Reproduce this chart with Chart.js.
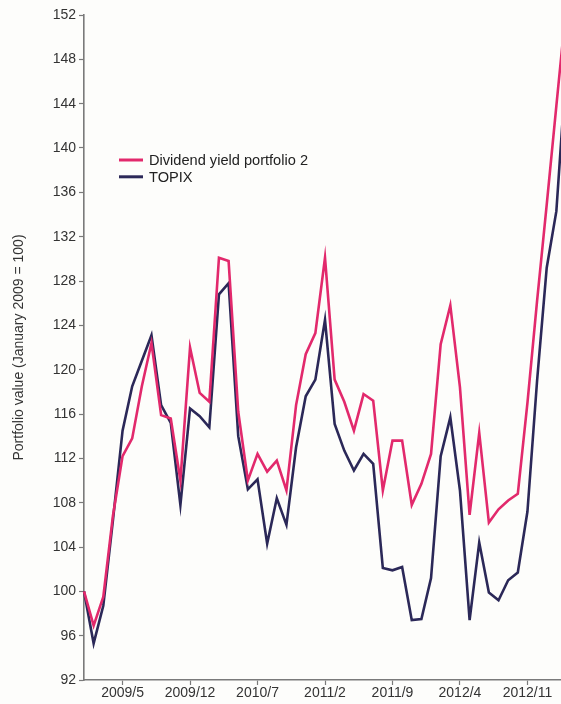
<!DOCTYPE html>
<html>
<head>
<meta charset="utf-8">
<script src="https://cdn.jsdelivr.net/npm/chart.js@4.4.0/dist/chart.umd.min.js"></script>
<style>
    html, body { margin: 0; padding: 0; background: #fdfdfb; overflow: hidden; }
    canvas { display: block; }
</style>
</head>
<body>
<!-- the original picture is cut off at the right edge, so the canvas is a bit wider than the window -->
<canvas id="chart" width="566" height="704"></canvas>
<script>
// =========================================================================
//  Data (monthly, January 2009 = 100)
// =========================================================================
const months = [
    '2009/1', '2009/2', '2009/3', '2009/4', '2009/5', '2009/6', '2009/7', '2009/8', '2009/9', '2009/10', '2009/11', '2009/12',
    '2010/1', '2010/2', '2010/3', '2010/4', '2010/5', '2010/6', '2010/7', '2010/8', '2010/9', '2010/10', '2010/11', '2010/12',
    '2011/1', '2011/2', '2011/3', '2011/4', '2011/5', '2011/6', '2011/7', '2011/8', '2011/9', '2011/10', '2011/11', '2011/12',
    '2012/1', '2012/2', '2012/3', '2012/4', '2012/5', '2012/6', '2012/7', '2012/8', '2012/9', '2012/10', '2012/11', '2012/12',
    '2013/1', '2013/2', '2013/3'
];

const tickLabels = ['2009/5', '2009/12', '2010/7', '2011/2', '2011/9', '2012/4', '2012/11'];

const dividendYield = [
    100.0, 96.9, 99.5, 106.8, 112.2, 113.8, 118.5, 122.4, 115.9, 115.6, 110.0, 122.0,
    117.9, 117.1, 130.1, 129.8, 116.2, 110.0, 112.4, 110.8, 111.8, 109.1, 116.8, 121.4,
    123.3, 130.1, 119.1, 117.1, 114.5, 117.8, 117.2, 109.1, 113.6, 113.6, 107.8, 109.7,
    112.4, 122.3, 125.8, 118.4, 106.9, 114.3, 106.2, 107.4, 108.2, 108.8, 117.0, 126.2,
    134.9, 143.8, 152.6
];

const topix = [
    100.0, 95.3, 98.7, 106.4, 114.5, 118.5, 120.8, 123.1, 116.8, 115.2, 107.8, 116.5,
    115.8, 114.8, 126.8, 127.8, 114.0, 109.2, 110.1, 104.3, 108.4, 106.0, 113.0, 117.6,
    119.1, 124.5, 115.1, 112.7, 110.9, 112.4, 111.5, 102.1, 101.9, 102.2, 97.4, 97.5,
    101.2, 112.2, 115.7, 109.1, 97.4, 104.4, 99.9, 99.2, 101.0, 101.7, 107.2, 119.0,
    129.2, 134.3, 147.0
];

const seriesNames = ['Dividend yield portfolio 2', 'TOPIX'];
const seriesColors = ['#e2296c', '#2b2858'];
const yTitle = 'Portfolio value (January 2009 = 100)';

// =========================================================================
//  Legend drawn inside the plot, like the original
// =========================================================================
const insideLegend = {
    id: 'insideLegend',
    afterDraw(chart) {
        const ctx = chart.ctx;
        ctx.save();
        ctx.font = '14.6px "Liberation Sans", Arial, sans-serif';
        ctx.textBaseline = 'middle';
        chart.data.datasets.forEach((ds, i) => {
            const y = 160 + i * 16.8;
            ctx.strokeStyle = ds.borderColor;
            ctx.lineWidth = 3;
            ctx.beginPath();
            ctx.moveTo(119, y);
            ctx.lineTo(143, y);
            ctx.stroke();
            ctx.fillStyle = '#222';
            ctx.fillText(ds.label, 149, y + 1);
        });
        ctx.restore();
    }
};

// =========================================================================
//  Chart
// =========================================================================
Chart.defaults.font.family = '"Liberation Sans", Arial, sans-serif';
Chart.defaults.font.size = 14;
Chart.defaults.color = '#333';

const axisGray = '#7a7a7a';

new Chart(document.getElementById('chart'), {
    type: 'line',
    data: {
        labels: months,
        datasets: [
            { label: seriesNames[0], data: dividendYield, borderColor: seriesColors[0] },
            { label: seriesNames[1], data: topix, borderColor: seriesColors[1] }
        ]
    },
    options: {
        responsive: false,
        animation: false,
        layout: { padding: { top: 15, left: 0, right: 0, bottom: 0 } },
        elements: {
            line: { borderWidth: 2.6, tension: 0 },
            point: { radius: 0 }
        },
        plugins: {
            legend: { display: false },
            tooltip: { enabled: false }
        },
        scales: {
            x: {
                type: 'category',
                afterBuildTicks: axis => {
                    // keep only the labelled months
                    axis.ticks = axis.ticks.filter(t => tickLabels.includes(months[t.value]));
                },
                afterFit: axis => { axis.height = 24; },
                ticks: { autoSkip: false, maxRotation: 0, padding: 0, color: '#333' },
                grid: { drawOnChartArea: false, drawTicks: true, tickLength: 5, tickColor: axisGray, tickWidth: 1.2 },
                border: { display: true, color: axisGray, width: 1.6 }
            },
            y: {
                min: 92,
                max: 152,
                afterFit: axis => { axis.width = 84; },
                ticks: { stepSize: 4, padding: 3, color: '#333' },
                grid: { drawOnChartArea: false, drawTicks: true, tickLength: 5, tickColor: axisGray, tickWidth: 1.2 },
                border: { display: true, color: axisGray, width: 1.6 },
                title: {
                    display: true,
                    text: yTitle,
                    color: '#333',
                    font: { size: 14 },
                    padding: { top: 11, bottom: 0 }
                }
            }
        }
    },
    plugins: [insideLegend]
});
</script>
</body>
</html>
